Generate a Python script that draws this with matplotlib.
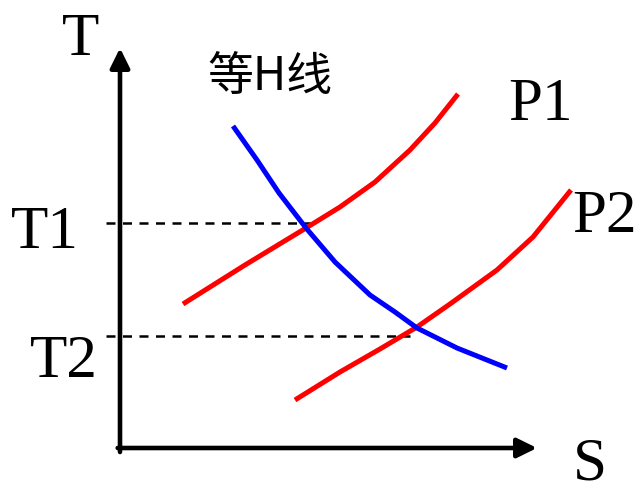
import numpy as np
import matplotlib.pyplot as plt

# curve data (S, T)
p1_s = [0.63, 1.25, 1.86, 2.20, 2.55, 2.90, 3.15, 3.38]
p1_t = [1.44, 1.83, 2.20, 2.41, 2.66, 2.98, 3.25, 3.54]

p2_s = [1.75, 2.20, 2.60, 2.97, 3.30, 3.77, 4.13, 4.51]
p2_t = [0.48, 0.76, 0.99, 1.21, 1.44, 1.78, 2.11, 2.58]

h_s = [1.13, 1.37, 1.59, 1.86, 2.15, 2.50, 2.75, 2.97, 3.37, 3.87]
h_t = [3.22, 2.88, 2.55, 2.20, 1.86, 1.53, 1.36, 1.20, 1.00, 0.80]

t1, t1_end = 2.25, 1.93
t2, t2_end = 1.12, 2.90

serif = ['Liberation Serif', 'DejaVu Serif']

fig = plt.figure(figsize=(6.4, 4.88), dpi=100)
ax = fig.add_axes([0, 0, 1, 1])
ax.set_xlim(-1.2, 5.2)
ax.set_ylim(-0.40, 4.48)
ax.axis('off')

# axes with arrows
arrow = dict(arrowstyle='-|>,head_length=0.85,head_width=0.42', color='black',
             lw=3.3, shrinkA=0, shrinkB=0, mutation_scale=14)
ax.annotate('', xy=(0, 4.00), xytext=(0, -0.04), arrowprops=arrow)
ax.annotate('', xy=(4.17, 0), xytext=(-0.023, 0), arrowprops=arrow)

# dashed guide lines
ax.plot([-0.14, t1_end], [t1, t1], color='black', lw=1.8, dashes=[3.6, 3.0])
ax.plot([-0.14, t2_end], [t2, t2], color='black', lw=1.8, dashes=[3.6, 3.0])

# curves
style = dict(lw=3.6, solid_capstyle='butt', solid_joinstyle='round')
ax.plot(p1_s, p1_t, color='#ff0000', **style)
ax.plot(p2_s, p2_t, color='#ff0000', **style)
ax.plot(h_s, h_t, color='#0000ff', **style)

# labels
ax.text(-0.39, 3.93, 'T', family=serif, fontsize=44, ha='center', va='baseline')
ax.text(-0.75, 2.00, 'T1', family=serif, fontsize=44, ha='center', va='baseline')
ax.text(-0.56, 0.71, 'T2', family=serif, fontsize=44, ha='center', va='baseline')
ax.text(4.20, 3.28, 'P1', family=serif, fontsize=44, ha='center', va='baseline')
ax.text(4.85, 2.16, 'P2', family=serif, fontsize=44, ha='center', va='baseline')
ax.text(4.70, -0.32, 'S', family=serif, fontsize=44, ha='center', va='baseline')
ax.text(1.50, 3.71, '等H线', family=['Noto Sans CJK SC', 'DejaVu Sans'],
        fontsize=33, ha='center', va='center')

fig.savefig('out.png', dpi=100)
